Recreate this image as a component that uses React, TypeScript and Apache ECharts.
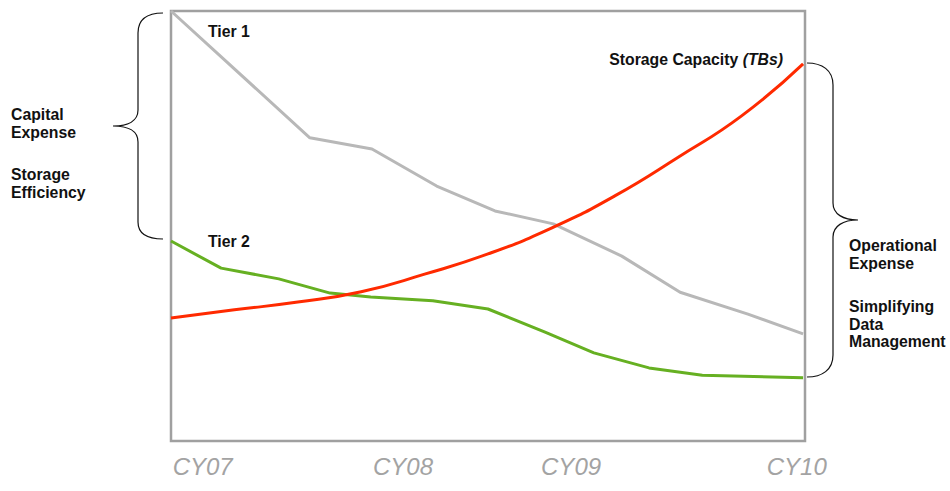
import React, { useEffect, useRef } from "react";
import * as echarts from "echarts";

// x positions on a 0-100 time scale, y on a 0-100 relative scale
const tier1X = [0, 21.9, 31.7, 41.9, 51.1, 60.3, 71.1, 80.3, 91.0, 99.7];
const tier1Y = [100, 70.5, 67.9, 59.3, 53.5, 50.5, 43.0, 34.6, 29.5, 24.9];

const tier2X = [0, 7.9, 17.0, 25.1, 31.5, 41.3, 50.0, 59.0, 66.7, 75.4, 83.8, 99.7];
const tier2Y = [46.5, 40.2, 37.7, 34.4, 33.5, 32.6, 30.7, 25.3, 20.5, 17.0, 15.3, 14.7];

const capX = [0, 10, 20, 30, 40, 50, 60, 70, 80, 90, 99.7];
const capY = [28.6, 30.5, 32.3, 34.7, 38.8, 43.5, 49.5, 57.0, 66.0, 75.6, 87.7];

const tickPositions = [5, 36.6, 63.1, 98.7];
const tickLabels = ["CY07", "CY08", "CY09", "CY10"];

const zip = (xs: number[], ys: number[]) => xs.map((x, i) => [x, ys[i]]);

const FONT = "'Liberation Sans', Arial, sans-serif";

export default function App() {
  const ref = useRef<HTMLDivElement>(null);
  useEffect(() => {
    if (!ref.current) return;
    const leftBrace =
      "M163,13 C148,13 138,18 138,33 L138,110 C138,121 128,126 113,126 C128,126 138,131 138,142 L138,222 C138,234 148,239 163,239";
    const rightBrace =
      "M807,63 C822,63 833,70 833,85 L833,203 C833,214 843,220 858,220 C843,220 833,226 833,237 L833,355 C833,370 822,377 807,377";
    echarts.graphic.registerShape("leftBrace", echarts.graphic.extendPath(leftBrace, {}));
    echarts.graphic.registerShape("rightBrace", echarts.graphic.extendPath(rightBrace, {}));

    const chart = echarts.init(ref.current, null, { renderer: "svg" });
    const textStyle = (text: string, x: number, y: number) => ({
      type: "text",
      left: x,
      top: y,
      style: {
        text,
        font: `bold 15.8px ${FONT}`,
        fill: "#111",
        lineHeight: 17.5,
      },
    });
    chart.setOption({
      animation: false,
      grid: {
        left: 171,
        top: 11,
        right: 145,
        bottom: 50,
        show: true,
        borderColor: "#a0a0a0",
        borderWidth: 2.5,
        backgroundColor: "transparent",
      },
      xAxis: {
        type: "value",
        min: 0,
        max: 100,
        axisLine: { show: false },
        axisTick: { show: false },
        splitLine: { show: false },
        axisLabel: {
          customValues: tickPositions,
          formatter: (v: number) => tickLabels[tickPositions.indexOf(v)] ?? "",
          color: "#a3a3a3",
          fontSize: 24,
          fontStyle: "italic",
          fontFamily: FONT,
          margin: 13,
        },
      },
      yAxis: {
        type: "value",
        min: 0,
        max: 100,
        show: false,
      },
      series: [
        {
          name: "Tier 1",
          type: "line",
          data: zip(tier1X, tier1Y),
          showSymbol: false,
          lineStyle: { color: "#b8b8b8", width: 3 },
        },
        {
          name: "Tier 2",
          type: "line",
          data: zip(tier2X, tier2Y),
          showSymbol: false,
          lineStyle: { color: "#66b022", width: 3 },
        },
        {
          name: "Storage Capacity",
          type: "line",
          data: zip(capX, capY),
          smooth: true,
          showSymbol: false,
          lineStyle: { color: "#ff2a00", width: 3 },
        },
      ],
      graphic: [
        {
          type: "leftBrace",
          style: { stroke: "#111", fill: "none", lineWidth: 1.2 },
        },
        {
          type: "rightBrace",
          style: { stroke: "#111", fill: "none", lineWidth: 1.2 },
        },
        textStyle("Tier 1", 208, 23),
        textStyle("Tier 2", 208, 233),
        textStyle("Capital\nExpense", 11, 106),
        textStyle("Storage\nEfficiency", 11, 166),
        textStyle("Operational\nExpense", 849, 237),
        textStyle("Simplifying\nData\nManagement", 849, 298),
        {
          type: "text",
          right: 950 - 783,
          top: 51,
          style: {
            text: "{b|Storage Capacity }{bi|(TBs)}",
            rich: {
              b: { font: `bold 15.8px ${FONT}`, fill: "#111" },
              bi: { font: `italic bold 15.8px ${FONT}`, fill: "#111" },
            },
          },
        },
      ],
    });
    return () => chart.dispose();
  }, []);
  return (
    <div
      ref={ref}
      style={{ position: "fixed", left: 0, top: 0, width: 950, height: 491, background: "#fff" }}
    />
  );
}
